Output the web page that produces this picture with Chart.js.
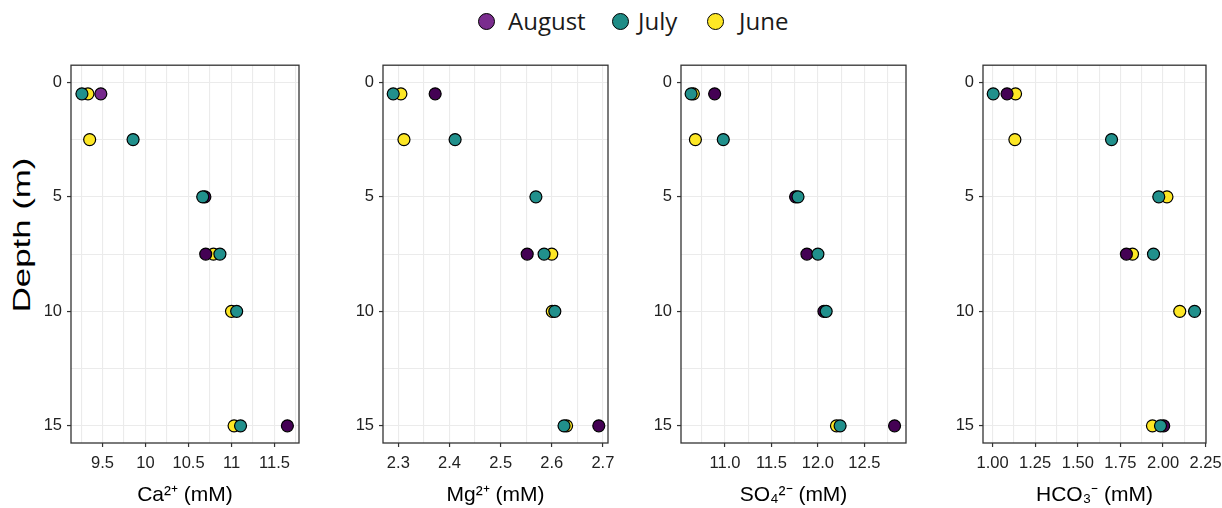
<!DOCTYPE html>
<html>
<head>
<meta charset="utf-8">
<script src="https://cdn.jsdelivr.net/npm/chart.js@4.4.0/dist/chart.umd.min.js"></script>
<style>
  body { margin: 0; background: #fff; }
  #wrap { position: relative; width: 1222px; height: 508px; overflow: hidden; }
  .panel { position: absolute; top: 58px; height: 450px; }
  .legend { position: absolute; top: 0; left: 0; font-family: 'Open Sans', 'Noto Sans', sans-serif;
            font-size: 24px; color: #1a1a1a; }
  .legend .dot { position: absolute; top: 13px; width: 15px; height: 15px; border: 1.5px solid #000; border-radius: 50%; }
  .legend .txt { position: absolute; top: 4px; line-height: 33px; white-space: nowrap; }
  #ytitle { position: absolute; left: 22px; top: 235px; font-family: 'Liberation Sans', Arial, sans-serif;
            font-size: 24px; color: #000; white-space: nowrap;
            transform: translate(-50%, -50%) rotate(-90deg) scaleX(1.45); }
</style>
</head>
<body>
<div id="wrap">
  <div class="legend">
    <span class="dot" style="left:478px;background:#7a2d8e"></span><span class="txt" style="left:508px">August</span>
    <span class="dot" style="left:612px;background:#1f8c86"></span><span class="txt" style="left:638px">July</span>
    <span class="dot" style="left:707px;background:#fde725"></span><span class="txt" style="left:739px">June</span>
  </div>
  <div id="ytitle">Depth (m)</div>
  <div class="panel" style="left:0px;width:315px"><canvas id="ca"></canvas></div>
  <div class="panel" style="left:338px;width:286px"><canvas id="mg"></canvas></div>
  <div class="panel" style="left:636px;width:286px"><canvas id="so4"></canvas></div>
  <div class="panel" style="left:938px;width:284px"><canvas id="hco3"></canvas></div>
</div>
<script>
// depth of each sample (m)
const depths = [0.5, 2.5, 5, 7.5, 10, 15];

// Ca2+ (mM)
const caAug = [9.48, null, 10.69, 10.70, null, 11.65];
const caJul = [9.26, 9.855, 10.665, 10.865, 11.06, 11.105];
const caJun = [9.33, 9.35, null, 10.79, 11.0, 11.03];

// Mg2+ (mM)
const mgAug = [2.372, null, null, 2.552, null, 2.692];
const mgJul = [2.290, 2.411, 2.569, 2.585, 2.606, 2.624];
const mgJun = [2.305, 2.311, null, 2.600, 2.601, 2.629];

// SO4 2- (mM)
const so4Aug = [10.889, null, 11.76, 11.882, 12.065, 12.825];
const so4Jul = [10.636, 10.982, 11.786, 12.0, 12.089, 12.239];
const so4Jun = [10.66, 10.682, null, null, null, 12.2];

// HCO3- (mM)
const hco3Aug = [1.085, null, null, 1.785, null, 2.004];
const hco3Jul = [1.004, 1.698, 1.975, 1.944, 2.185, 1.985];
const hco3Jun = [1.135, 1.131, 2.023, 1.821, 2.098, 1.938];

const colAug = '#440154', colJul = '#21908c', colJun = '#fde725';

const tickFont = { family: "'Liberation Sans', Arial, sans-serif", size: 16.5 };
const titleFont = { family: "'Liberation Sans', Arial, sans-serif", size: 21 };

const toPoints = vals => depths.map((d, i) => ({ x: vals[i], y: d })).filter(p => p.x !== null);

const isMajor = (v, step) => Math.abs(v / step - Math.round(v / step)) < 1e-6;

const boxPlugin = {
    id: 'box',
    afterDraw(chart) {
        const a = chart.chartArea, ctx = chart.ctx;
        ctx.save();
        ctx.strokeStyle = '#333';
        ctx.lineWidth = 1.3;
        ctx.strokeRect(a.left, a.top, a.right - a.left, a.bottom - a.top);
        ctx.restore();
    }
};

function panel(id, title, aug, jul, jun, xmin, xmax, minor, major, fmt, yWidth, augFirstColor) {
    new Chart(document.getElementById(id), {
        type: 'scatter',
        data: {
            datasets: [
                { label: 'July', data: toPoints(jul), backgroundColor: colJul, order: 0 },
                { label: 'August', data: toPoints(aug), order: 1,
                  backgroundColor: ctx => (augFirstColor && ctx.raw && ctx.raw.y === 0.5) ? augFirstColor : colAug },
                { label: 'June', data: toPoints(jun), backgroundColor: colJun, order: 2 }
            ]
        },
        options: {
            responsive: true,
            maintainAspectRatio: false,
            animation: false,
            events: [],
            layout: { padding: { top: 2, right: 16, left: 0, bottom: 0 } },
            elements: { point: { radius: 6, borderWidth: 1.2, borderColor: '#000' } },
            plugins: { legend: { display: false }, tooltip: { enabled: false } },
            scales: {
                x: {
                    type: 'linear',
                    min: xmin,
                    max: xmax,
                    afterFit: s => { s.height = 65; s.paddingLeft = 0; s.paddingRight = 0; },
                    border: { display: false },
                    grid: {
                        color: '#ebebeb',
                        lineWidth: 1.1,
                        tickLength: 4,
                        tickColor: c => isMajor(c.tick.value, major) ? '#333' : 'rgba(0,0,0,0)',
                        tickWidth: 1.2
                    },
                    ticks: {
                        stepSize: minor,
                        includeBounds: false,
                        autoSkip: false,
                        maxRotation: 0,
                        maxTicksLimit: 100,
                        padding: 7,
                        color: '#222',
                        font: tickFont,
                        callback: v => isMajor(v, major) ? fmt(v) : ''
                    },
                    title: { display: true, text: title, color: '#000', font: titleFont, padding: { top: 0, bottom: 0 } }
                },
                y: {
                    type: 'linear',
                    reverse: true,
                    min: -0.75,
                    max: 15.75,
                    afterFit: s => { s.width = yWidth; s.paddingTop = 0; s.paddingBottom = 0; },
                    border: { display: false },
                    grid: {
                        color: '#ebebeb',
                        lineWidth: 1.1,
                        tickLength: 4,
                        tickColor: c => isMajor(c.tick.value, 5) ? '#333' : 'rgba(0,0,0,0)',
                        tickWidth: 1.2
                    },
                    ticks: {
                        stepSize: 2.5,
                        includeBounds: false,
                        autoSkip: false,
                        padding: 5,
                        color: '#222',
                        font: tickFont,
                        callback: v => isMajor(v, 5) ? String(v) : ''
                    }
                }
            }
        },
        plugins: [boxPlugin]
    });
}

panel('ca', 'Ca²⁺ (mM)', caAug, caJul, caJun, 9.133, 11.785, 0.25, 0.5, v => String(v), 71, '#76298c');
panel('mg', 'Mg²⁺ (mM)', mgAug, mgJul, mgJun, 2.270, 2.710, 0.05, 0.1, v => v.toFixed(1), 45, null);
panel('so4', 'SO₄²⁻ (mM)', so4Aug, so4Jul, so4Jun, 10.527, 12.948, 0.25, 0.5, v => v.toFixed(1), 45, null);
panel('hco3', 'HCO₃⁻ (mM)', hco3Aug, hco3Jul, hco3Jun, 0.944, 2.252, 0.125, 0.25, v => v.toFixed(2), 45, null);
</script>
</body>
</html>
